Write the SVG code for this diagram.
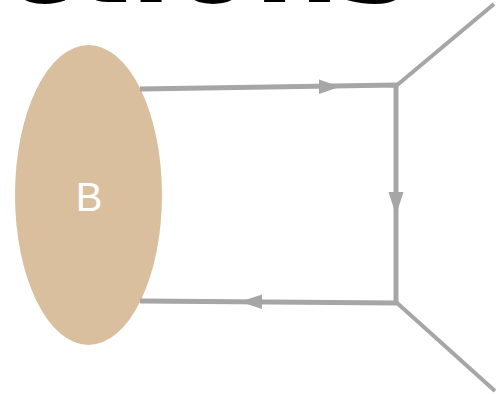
<svg xmlns="http://www.w3.org/2000/svg" width="504" height="394" viewBox="0 0 504 394">
  <style>
    .title { font-family: "DejaVu Sans", sans-serif; font-weight: bold; font-size: 120px; fill: #000; }
    .edge { fill: none; stroke: #a6a6a6; stroke-width: 5; stroke-linecap: butt; }
    .leg { fill: none; stroke: #a6a6a6; stroke-width: 4; }
    .head { fill: #a6a6a6; }
    .node-shape { fill: #d9bf9e; }
    .node-label { font-family: "Liberation Sans", Arial, sans-serif; font-size: 40px; fill: #ffffff; text-anchor: middle; }
  </style>

  <text class="title" x="2" y="2">ctions</text>

  <g id="blob-B">
    <ellipse class="node-shape" cx="88.5" cy="195" rx="73.5" ry="150"/>
    <text class="node-label" x="89" y="211">B</text>
  </g>

  <g id="connectors">
    <path class="edge" d="M140 89 L396 85 L396 303 L140 301"/>
    <path class="leg" d="M396 86 L494 4"/>
    <path class="leg" d="M396 302 L495 391"/>
    <path class="head" d="M340 86.7 L319 79.5 L319 94 Z"/>
    <path class="head" d="M396 215 L388.5 192 L403.5 192 Z"/>
    <path class="head" d="M240 301.8 L262 294.5 L262 309 Z"/>
  </g>
</svg>
